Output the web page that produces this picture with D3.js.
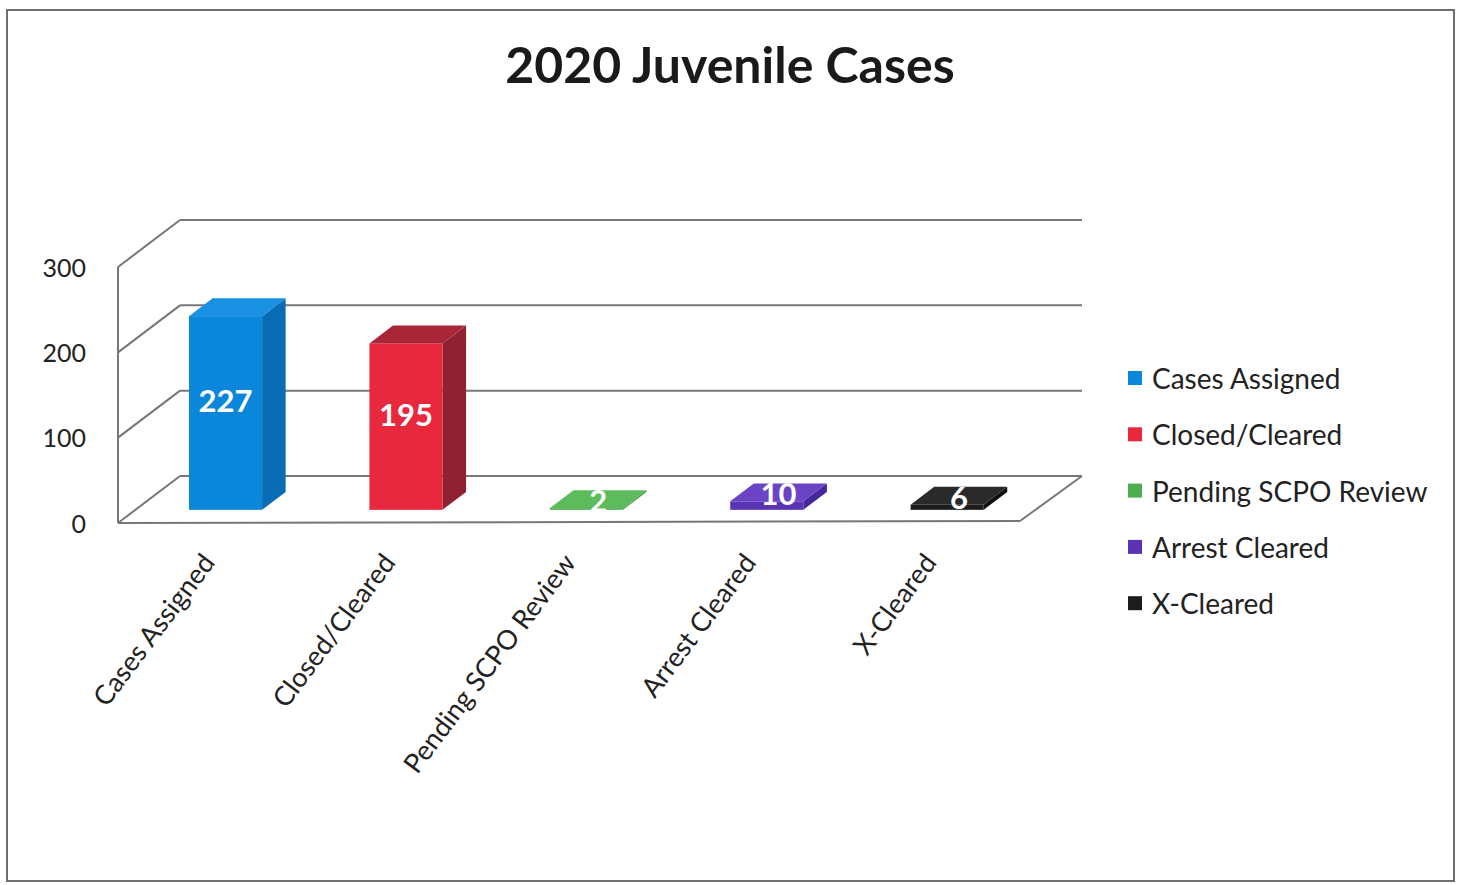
<!DOCTYPE html>
<html>
<head>
<meta charset="utf-8">
<script src="https://cdn.jsdelivr.net/npm/d3@7"></script>
<style>
  html, body { margin: 0; padding: 0; background: #fff; }
  svg { display: block; }
  text { font-family: Lato, "Open Sans", sans-serif; }
</style>
</head>
<body>
<svg id="chart" width="1458" height="885"></svg>
<script>
// ---- data ----
const title = "2020 Juvenile Cases";
const categories = ["Cases Assigned", "Closed/Cleared", "Pending SCPO Review", "Arrest Cleared", "X-Cleared"];
const values = [227, 195, 2, 10, 6];
const yTicks = [0, 100, 200, 300];

// ---- styles ----
const frontColors = ["#0a86da", "#e8283c", "#4cae4c", "#5a34b4", "#1c1c1c"];
const topColors   = ["#1a90e2", "#a92638", "#5cbc5c", "#6a44c4", "#2a2a2a"];
const sideColors  = ["#086db5", "#8f2133", "#3d9a3d", "#45279a", "#101010"];
const gridColor = "#777";

const svg = d3.select("#chart");

// outer frame
svg.append("rect").attr("x", 7).attr("y", 10).attr("width", 1447).attr("height", 871)
  .attr("fill", "none").attr("stroke", "#6f6f6f").attr("stroke-width", 2);

// title
svg.append("text").attr("x", 730).attr("y", 83).attr("text-anchor", "middle")
  .attr("font-size", 50).attr("font-weight", 700).attr("fill", "#1a1a1a").text(title);

// 3D geometry
const X0 = 118, X1 = 1020;
const DX = 62, DY = -47;           // full depth offset
const y = d3.scaleLinear().domain([0, 300]).range([523, 267]);
const x = d3.scaleBand().domain(categories).range([X0, X1]).paddingInner(0.595).paddingOuter(0.2975);

const g = svg.append("g");

// back wall gridlines
g.selectAll("line.grid").data(yTicks).join("line").attr("class", "grid")
  .attr("x1", X0 + DX).attr("x2", X1 + DX)
  .attr("y1", d => y(d) + DY).attr("y2", d => y(d) + DY)
  .attr("stroke", gridColor).attr("stroke-width", 2);

// left wall diagonals
g.selectAll("line.diag").data(yTicks).join("line").attr("class", "diag")
  .attr("x1", X0).attr("x2", X0 + DX)
  .attr("y1", d => y(d)).attr("y2", d => y(d) + DY)
  .attr("stroke", gridColor).attr("stroke-width", 2);

// left wall front vertical
g.append("line").attr("x1", X0).attr("x2", X0).attr("y1", y(0)).attr("y2", y(300))
  .attr("stroke", gridColor).attr("stroke-width", 2);

// floor front edge and right edge
g.append("line").attr("x1", X0).attr("x2", X1).attr("y1", y(0)).attr("y2", y(0) - 2)
  .attr("stroke", gridColor).attr("stroke-width", 2);
g.append("line").attr("x1", X1).attr("x2", X1 + DX).attr("y1", y(0) - 2).attr("y2", y(0) + DY)
  .attr("stroke", gridColor).attr("stroke-width", 2);

// y axis labels
const yAxis = d3.axisLeft(y).tickValues(yTicks).tickSize(0).tickPadding(32);
const ax = svg.append("g").attr("transform", `translate(${X0},0)`).call(yAxis);
ax.select(".domain").remove();
ax.selectAll("text").attr("font-size", 25).attr("fill", "#222")
  .attr("font-family", "Lato, sans-serif").attr("dy", "0.36em");

// bars
const d0 = 0.28, d1 = 0.66;
const bx = d0 * DX, by = d0 * DY;                // front face offset
const tx = (d1 - d0) * DX, ty = (d1 - d0) * DY;  // depth of bar
const bw = x.bandwidth();

const bars = g.selectAll("g.bar").data(categories.map((c, i) => ({ c, v: values[i], i })))
  .join("g").attr("class", "bar");

bars.each(function (d) {
  const sel = d3.select(this);
  const xl = x(d.c) + bx, xr = xl + bw;
  const yb = y(0) + by, yt = y(d.v) + by;
  // side
  sel.append("polygon")
    .attr("points", [[xr, yt], [xr + tx, yt + ty], [xr + tx, yb + ty], [xr, yb]].join(" "))
    .attr("fill", sideColors[d.i]);
  // front
  sel.append("rect").attr("x", xl).attr("y", yt).attr("width", bw).attr("height", yb - yt)
    .attr("fill", frontColors[d.i]);
  // top
  sel.append("polygon")
    .attr("points", [[xl, yt], [xr, yt], [xr + tx, yt + ty], [xl + tx, yt + ty]].join(" "))
    .attr("fill", topColors[d.i]);
  // value label
  const tall = (yb - yt) > 30;
  const lx = tall ? xl + bw / 2 : xl + bw / 2 + tx / 2;
  const ly = tall ? (yt + yb) / 2 - 13 : yt + ty / 2 + 1;
  sel.append("text").attr("x", lx).attr("y", ly)
    .attr("text-anchor", "middle").attr("dominant-baseline", "central")
    .attr("font-size", 31).attr("font-weight", 700).attr("fill", "#fff")
    .text(d.v);
});

// category labels
svg.selectAll("text.cat").data(categories).join("text").attr("class", "cat")
  .attr("transform", d => `translate(${x(d) + bw / 2 + 8},563) rotate(-53)`)
  .attr("text-anchor", "end").attr("font-size", 27).attr("fill", "#222").text(d => d);

// legend
const leg = svg.append("g").selectAll("g").data(categories).join("g")
  .attr("transform", (d, i) => `translate(1128,${378 + i * 56.3})`);
leg.append("rect").attr("x", 0).attr("y", -7).attr("width", 14).attr("height", 14)
  .attr("fill", (d, i) => frontColors[i]);
leg.append("text").attr("x", 24).attr("y", 0).attr("dominant-baseline", "central")
  .attr("font-size", 28).attr("fill", "#222").text(d => d);
</script>
</body>
</html>
